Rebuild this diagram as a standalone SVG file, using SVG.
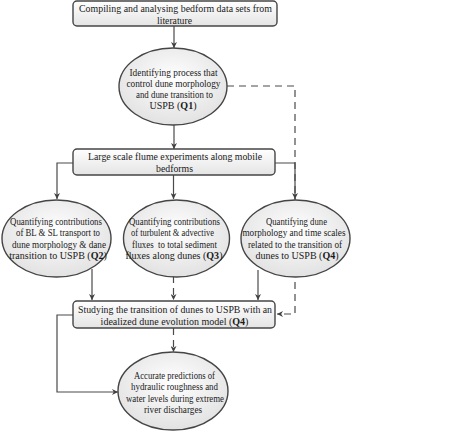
<svg xmlns="http://www.w3.org/2000/svg" width="474" height="432" viewBox="0 0 474 432">
<style>
.n{stroke:#454545;stroke-width:1.4}
.b{fill:url(#gb)}
.e{fill:url(#ge)}
text{font-family:"Liberation Serif","Times New Roman",serif;font-size:10px;fill:#1a1a1a;text-anchor:middle}
tspan.q{font-weight:bold}
.c{fill:none;stroke:#4a4a4a;stroke-width:1.2}
.d{stroke-dasharray:7,5}
</style>
<defs>
<linearGradient id="gb" x1="0" y1="0" x2="0" y2="1"><stop offset="0" stop-color="#ffffff"/><stop offset="1" stop-color="#e4e4e4"/></linearGradient>
<radialGradient id="ge" cx="0.5" cy="0.4" r="0.6"><stop offset="0" stop-color="#ffffff"/><stop offset="1" stop-color="#e2e2e2"/></radialGradient>
<marker id="a" viewBox="0 0 10 10" refX="10" refY="5" markerWidth="6" markerHeight="6" markerUnits="userSpaceOnUse" orient="auto"><path d="M0,0 L10,5 L0,10 L3,5 Z" fill="#404040"/></marker>
</defs>
<g id="connectors">
<path class="c" d="M174,26 V48" marker-end="url(#a)"/>
<path class="c" d="M174,125 V149" marker-end="url(#a)"/>
<path class="c d" d="M227,86 H295 V314 H277" marker-end="url(#a)"/>
<path class="c" d="M73,163 H57 V199" marker-end="url(#a)"/>
<path class="c" d="M173.5,175 V199" marker-end="url(#a)"/>
<path class="c" d="M275,163 H295 V199" marker-end="url(#a)"/>
<path class="c" d="M92,269 V300" marker-end="url(#a)"/>
<path class="c d" d="M173.5,276 V300" marker-end="url(#a)"/>
<path class="c" d="M258,270 V300" marker-end="url(#a)"/>
<path class="c" d="M73,315 H57 V392 H118" marker-end="url(#a)"/>
<path class="c d" d="M173.5,328 V352" marker-end="url(#a)"/>
</g>
<g id="n1">
<rect class="n b" x="73" y="1" width="204" height="25" rx="4"/>
<text x="175.5" y="12.3" textLength="193" lengthAdjust="spacingAndGlyphs">Compiling and analysing bedform data sets from</text>
<text x="174.5" y="23.8" textLength="35" lengthAdjust="spacingAndGlyphs">literature</text>
</g>
<g id="n2">
<ellipse class="n e" cx="173" cy="86.5" rx="54" ry="38.5"/>
<text x="173.5" y="75.5" textLength="88" lengthAdjust="spacingAndGlyphs">Identifying process that</text>
<text x="173.5" y="86.8" textLength="94" lengthAdjust="spacingAndGlyphs">control dune morphology</text>
<text x="174.5" y="98.1" textLength="77" lengthAdjust="spacingAndGlyphs">and dune transition to</text>
<text x="173" y="109.4" font-size="9.2">USPB (<tspan class="q">Q1</tspan>)</text>
</g>
<g id="n3">
<rect class="n b" x="73" y="149" width="202" height="26" rx="4"/>
<text x="175" y="160.3" textLength="174" lengthAdjust="spacingAndGlyphs">Large scale flume experiments along mobile</text>
<text x="174.5" y="171.8" textLength="37" lengthAdjust="spacingAndGlyphs">bedforms</text>
</g>
<g id="n4">
<ellipse class="n e" cx="56.5" cy="238.5" rx="54.5" ry="38.5"/>
<text x="56" y="225" textLength="92" lengthAdjust="spacingAndGlyphs">Quantifying contributions</text>
<text x="58" y="236.4" textLength="84" lengthAdjust="spacingAndGlyphs">of BL &amp; SL transport to</text>
<text x="59" y="247.8" textLength="94" lengthAdjust="spacingAndGlyphs">dune morphology &amp; dane</text>
<text x="58" y="259.2" font-size="9">transition to USPB (<tspan class="q">Q2</tspan>)</text>
</g>
<g id="n5">
<ellipse class="n e" cx="176.5" cy="238.5" rx="53" ry="38.5"/>
<text x="174.5" y="225" textLength="91" lengthAdjust="spacingAndGlyphs">Quantifying contributions</text>
<text x="172.5" y="236.4" textLength="83" lengthAdjust="spacingAndGlyphs">of turbulent &amp; advective</text>
<text x="174.5" y="247.8" textLength="85" lengthAdjust="spacingAndGlyphs" xml:space="preserve">fluxes  to total sediment</text>
<text x="174" y="259.2" font-size="8.6">fluxes along dunes (<tspan class="q">Q3</tspan>)</text>
</g>
<g id="n6">
<ellipse class="n e" cx="295.5" cy="238.5" rx="54.5" ry="38.5"/>
<text x="296.5" y="225" textLength="61" lengthAdjust="spacingAndGlyphs">Quantifying dune</text>
<text x="294" y="236.4" textLength="103" lengthAdjust="spacingAndGlyphs">morphology and time scales</text>
<text x="295" y="247.8" textLength="94" lengthAdjust="spacingAndGlyphs">related to the transition of</text>
<text x="297" y="259.2" font-size="9.1">dunes to USPB (<tspan class="q">Q4</tspan>)</text>
</g>
<g id="n7">
<rect class="n b" x="73" y="301" width="202" height="27" rx="4"/>
<text x="175" y="313" textLength="194" lengthAdjust="spacingAndGlyphs">Studying the transition of dunes to USPB with an</text>
<text x="174.5" y="324.8" font-size="9.8">idealized dune evolution model (<tspan class="q">Q4</tspan>)</text>
</g>
<g id="n8">
<ellipse class="n e" cx="173" cy="391" rx="55" ry="39"/>
<text x="174.5" y="379" textLength="81" lengthAdjust="spacingAndGlyphs">Accurate predictions of</text>
<text x="174.5" y="390.4" textLength="87" lengthAdjust="spacingAndGlyphs">hydraulic roughness and</text>
<text x="175" y="401.8" textLength="98" lengthAdjust="spacingAndGlyphs">water levels during extreme</text>
<text x="173" y="413.2" textLength="58" lengthAdjust="spacingAndGlyphs">river discharges</text>
</g>
</svg>
